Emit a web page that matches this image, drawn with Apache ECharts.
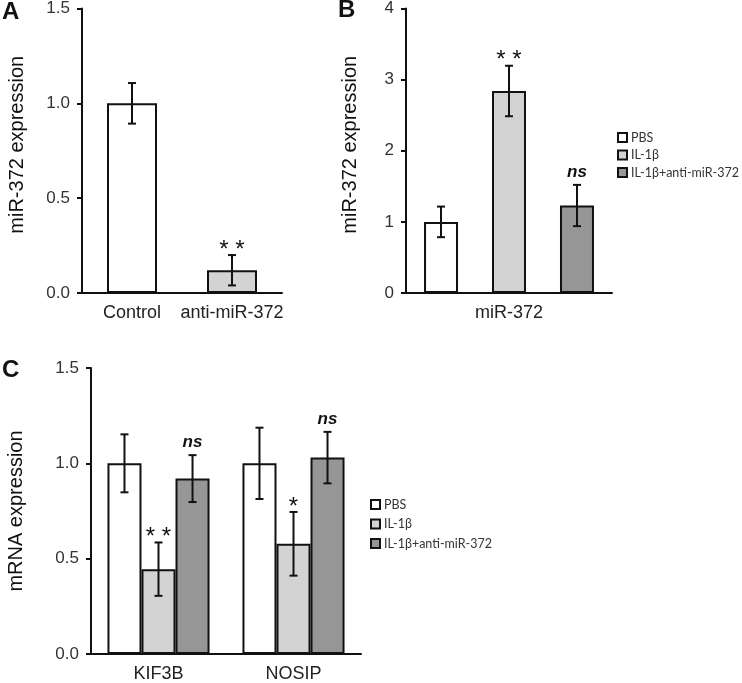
<!DOCTYPE html>
<html><head><meta charset="utf-8">
<script src="https://cdn.jsdelivr.net/npm/echarts@6/dist/echarts.min.js"></script>
<style>html,body{margin:0;padding:0;background:#fff}#c{width:742px;height:683px}</style>
</head><body><div id="c"></div>
<script>
// ---- Panel A ----
const catsA = ['Control', 'anti-miR-372'];
const valsA = [1.0, 0.12];
const errA = [0.107, 0.08];
const sigA = ['', '**'];
const colorsA = ['#ffffff', '#d3d3d3'];
// ---- Groups (B, C) ----
const groupNames = ['PBS', 'IL-1β', 'IL-1β+anti-miR-372'];
const groupColors = ['#ffffff', '#d3d3d3', '#969696'];
// ---- Panel B ----
const catsB = ['miR-372'];
const valsB = [[1.0], [2.84], [1.23]];
const errB = [[0.215], [0.355], [0.29]];
const sigB = [[''], ['**'], ['ns']];
// ---- Panel C ----
const catsC = ['KIF3B', 'NOSIP'];
const valsC = [[1.0, 1.0], [0.445, 0.578], [0.92, 1.03]];
const errC = [[0.152, 0.187], [0.14, 0.167], [0.123, 0.135]];
const sigC = [['', ''], ['**', '*'], ['ns', 'ns']];

const FONT = 'Liberation Sans, Arial, sans-serif';
const chart = echarts.init(document.getElementById('c'), null, {renderer: 'canvas'});

function errRender(n, catGap, gapRatio, idx, sigArr) {
  return function (params, api) {
    const ci = api.value(0), v = api.value(1), e = api.value(2);
    const band = api.size([1, 0])[0];
    const w = band * (1 - catGap) / (n + (n - 1) * gapRatio);
    const off = (idx - (n - 1) / 2) * w * (1 + gapRatio);
    const top = api.coord([ci, v + e]);
    const bot = api.coord([ci, v - e]);
    const x = top[0] + off;
    const cap = 4;
    const st = {stroke: '#111', lineWidth: 2};
    const children = [
      {type: 'line', shape: {x1: x, y1: top[1], x2: x, y2: bot[1]}, style: st},
      {type: 'line', shape: {x1: x - cap, y1: top[1], x2: x + cap, y2: top[1]}, style: st},
      {type: 'line', shape: {x1: x - cap, y1: bot[1], x2: x + cap, y2: bot[1]}, style: st}
    ];
    const s = sigArr[params.dataIndex];
    if (s) {
      const isNs = s === 'ns';
      children.push({
        type: 'text',
        style: {
          text: isNs ? s : s.split('').join(' '),
          x: x, y: isNs ? top[1] - 4 : top[1] + 7,
          textAlign: 'center', textVerticalAlign: 'bottom',
          font: isNs ? 'italic bold 17px ' + FONT : '24px ' + FONT,
          fill: '#111'
        }
      });
    }
    return {type: 'group', children: children};
  };
}

function yAxis(gi, min, max, interval, dec, name, gap, pad) {
  return {
    type: 'value', gridIndex: gi, min: min, max: max, interval: interval,
    name: name, nameLocation: 'middle', nameGap: gap,
    nameTextStyle: {fontFamily: FONT, fontSize: 20, color: '#111', padding: pad || 0},
    axisLine: {show: true, lineStyle: {color: '#111', width: 2}},
    axisTick: {show: true, length: 5, lineStyle: {color: '#111', width: 2}},
    splitLine: {show: false},
    axisLabel: {fontFamily: FONT, fontSize: 17, color: '#333', margin: 12,
      formatter: v => v.toFixed(dec)}
  };
}
function xAxis(gi, cats) {
  return {
    type: 'category', gridIndex: gi, data: cats,
    axisLine: {show: true, lineStyle: {color: '#111', width: 2}},
    axisTick: {show: false},
    axisLabel: {fontFamily: FONT, fontSize: 18, color: '#222', margin: 11, interval: 0}
  };
}

const series = [];
// A
series.push({
  type: 'bar', name: 'A', xAxisIndex: 0, yAxisIndex: 0, barCategoryGap: '50%',
  data: valsA.map((v, i) => ({value: v, itemStyle: {color: colorsA[i]}})),
  itemStyle: {borderColor: '#111', borderWidth: 2}, silent: true
});
series.push({
  type: 'custom', name: 'errA', xAxisIndex: 0, yAxisIndex: 0,
  renderItem: errRender(1, 0.5, 0, 0, sigA),
  data: valsA.map((v, i) => [i, v, errA[i]]), z: 5, silent: true
});
// B
groupNames.forEach((g, k) => {
  series.push({
    type: 'bar', name: g, xAxisIndex: 1, yAxisIndex: 1,
    barCategoryGap: '17.5%', barGap: '100%',
    data: valsB[k], itemStyle: {color: groupColors[k], borderColor: '#111', borderWidth: 2}
  });
});
groupNames.forEach((g, k) => {
  series.push({
    type: 'custom', name: 'errB' + k, xAxisIndex: 1, yAxisIndex: 1,
    renderItem: errRender(3, 0.175, 1, k, sigB[k]),
    data: valsB[k].map((v, i) => [i, v, errB[k][i]]), z: 5, silent: true
  });
});
// C
groupNames.forEach((g, k) => {
  series.push({
    type: 'bar', name: g, xAxisIndex: 2, yAxisIndex: 2,
    barCategoryGap: '24.4%', barGap: '0%',
    data: valsC[k], itemStyle: {color: groupColors[k], borderColor: '#111', borderWidth: 2}
  });
});
groupNames.forEach((g, k) => {
  series.push({
    type: 'custom', name: 'errC' + k, xAxisIndex: 2, yAxisIndex: 2,
    renderItem: errRender(3, 0.244, 0, k, sigC[k]),
    data: valsC[k].map((v, i) => [i, v, errC[k][i]]), z: 5, silent: true
  });
});

const legendBase = {
  orient: 'vertical', itemWidth: 9, itemHeight: 9, icon: 'rect', padding: 0,
  selectedMode: false, data: groupNames,
  textStyle: {fontFamily: 'Lato, sans-serif', fontSize: 12.5, color: '#333', lineHeight: 12,
    padding: [0, 0, 0, -1]}
};

chart.setOption({
  animation: false,
  backgroundColor: '#fff',
  grid: [
    {left: 82, top: 8, width: 200, height: 285},
    {left: 406, top: 8, width: 206, height: 285},
    {left: 91, top: 368, width: 270, height: 286}
  ],
  xAxis: [xAxis(0, catsA), xAxis(1, catsB), xAxis(2, catsC)],
  yAxis: [
    yAxis(0, 0, 1.5, 0.5, 1, 'miR-372 expression', 55, [0, 0, 0, 12]),
    yAxis(1, 0, 4, 1, 0, 'miR-372 expression', 46, [0, 0, 0, 12]),
    yAxis(2, 0, 1.5, 0.5, 1, 'mRNA expression', 65)
  ],
  legend: [
    Object.assign({left: 617, top: 131, itemGap: 4.5}, legendBase),
    Object.assign({left: 370, top: 498, itemGap: 6.5}, legendBase)
  ],
  graphic: [
    {type: 'text', left: 2, top: 0, style: {text: 'A', font: 'bold 24px ' + FONT, fill: '#111'}},
    {type: 'text', left: 338, top: -2, style: {text: 'B', font: 'bold 24px ' + FONT, fill: '#111'}},
    {type: 'text', left: 2, top: 358, style: {text: 'C', font: 'bold 24px ' + FONT, fill: '#111'}}
  ],
  series: series
});
</script></body></html>
